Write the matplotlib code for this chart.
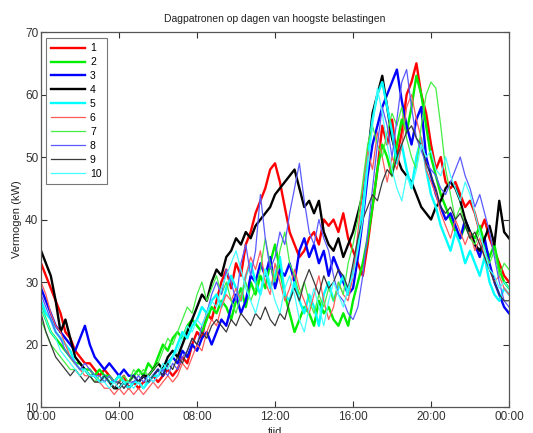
import numpy as np
import matplotlib
matplotlib.use("Agg")
import matplotlib.pyplot as plt

plt.rcParams['font.family'] = ['Liberation Sans', 'DejaVu Sans']

# quarter-hour load profiles (kW) for the ten peak days, 00:00 .. 24:00
day1 = [33, 31, 29, 27, 25, 22, 21, 19, 18, 17, 17, 16, 15, 16, 15, 14,
        14, 15, 13, 14, 13, 14, 14, 15, 14, 15, 16, 15, 16, 18, 17, 20,
        22, 21, 25, 24, 27, 30, 32, 29, 33, 31, 36, 38, 41, 43, 45, 48,
        49, 46, 42, 38, 36, 34, 35, 37, 38, 36, 40, 39, 40, 38, 41, 37,
        35, 33, 31, 36, 42, 48, 55, 52, 56, 50, 54, 60, 62, 65, 60, 57,
        52, 48, 50, 46, 45, 46, 44, 42, 43, 41, 38, 40, 37, 35, 33, 31, 30]
day2 = [26, 24, 22, 21, 20, 19, 18, 17, 17, 16, 16, 15, 16, 15, 15, 14,
        15, 14, 14, 15, 16, 15, 17, 16, 18, 20, 19, 21, 22, 21, 23, 24,
        23, 22, 24, 26, 25, 27, 26, 24, 27, 29, 26, 30, 28, 31, 29, 33,
        36, 32, 28, 25, 22, 24, 26, 25, 23, 27, 25, 26, 24, 23, 25, 23,
        27, 30, 33, 37, 42, 48, 52, 50, 47, 52, 56, 54, 58, 63, 60, 55,
        50, 47, 44, 42, 40, 38, 37, 39, 38, 37, 39, 36, 34, 36, 32, 30, 29]
day3 = [29, 27, 25, 23, 22, 21, 20, 19, 21, 23, 20, 18, 17, 16, 17, 16,
        15, 16, 15, 15, 14, 15, 14, 15, 16, 15, 17, 18, 17, 19, 18, 20,
        19, 21, 22, 20, 22, 24, 23, 26, 28, 25, 27, 31, 30, 33, 31, 34,
        29, 32, 31, 33, 30, 35, 37, 34, 36, 33, 35, 31, 34, 32, 30, 28,
        29, 34, 40, 47, 52, 55, 58, 60, 62, 64, 59, 55, 52, 56, 58, 50,
        47, 44, 42, 40, 41, 39, 37, 40, 38, 36, 34, 37, 33, 30, 28, 26, 25]
day4 = [35, 33, 31, 27, 22, 24, 21, 18, 17, 16, 15, 15, 14, 15, 14, 13,
        13, 14, 13, 14, 14, 15, 15, 16, 17, 16, 18, 19, 18, 20, 22, 24,
        26, 28, 27, 30, 32, 31, 34, 35, 37, 36, 38, 37, 39, 40, 41, 42,
        44, 45, 46, 47, 48, 45, 42, 43, 41, 43, 38, 36, 35, 37, 34, 36,
        38, 41, 44, 50, 57, 60, 63, 58, 53, 50, 48, 47, 46, 44, 42, 41,
        40, 42, 43, 45, 46, 45, 43, 40, 38, 36, 35, 37, 39, 36, 43, 38, 37]
day5 = [27, 25, 24, 22, 21, 20, 19, 17, 16, 16, 15, 15, 14, 15, 14, 14,
        15, 14, 13, 14, 14, 13, 14, 15, 15, 16, 17, 18, 20, 22, 21, 23,
        24, 26, 25, 27, 28, 26, 29, 31, 29, 27, 31, 33, 30, 28, 32, 29,
        31, 34, 28, 27, 30, 27, 25, 28, 26, 23, 28, 30, 27, 29, 31, 28,
        32, 36, 42, 50, 56, 60, 62, 58, 54, 49, 52, 48, 45, 50, 53, 48,
        44, 42, 39, 37, 35, 38, 36, 33, 35, 33, 31, 34, 30, 28, 27, 29, 28]
day6 = [30, 28, 25, 23, 22, 20, 18, 17, 16, 15, 15, 14, 14, 13, 13, 12,
        13, 12, 13, 12, 13, 12, 13, 14, 13, 14, 15, 14, 15, 17, 16, 18,
        20, 19, 22, 24, 23, 26, 28, 27, 29, 27, 31, 34, 32, 35, 30, 28,
        33, 30, 27, 29, 32, 29, 27, 25, 28, 31, 27, 24, 26, 30, 28, 27,
        31, 38, 45, 51, 48, 54, 50, 46, 50, 48, 52, 58, 60, 56, 53, 48,
        46, 44, 41, 39, 37, 40, 38, 36, 38, 35, 37, 34, 32, 30, 31, 29, 28]
day7 = [24, 22, 20, 19, 18, 17, 16, 16, 15, 16, 15, 14, 15, 14, 15, 14,
        14, 15, 14, 16, 15, 16, 15, 16, 17, 19, 21, 20, 22, 24, 26, 25,
        28, 30, 27, 29, 31, 28, 30, 27, 25, 28, 30, 27, 29, 32, 37, 33,
        30, 35, 38, 33, 31, 28, 30, 27, 25, 28, 26, 29, 27, 30, 28, 33,
        36, 40, 46, 52, 55, 52, 50, 54, 57, 55, 58, 53, 50, 48, 55, 60,
        62, 61, 55, 48, 44, 40, 42, 39, 37, 36, 38, 35, 33, 35, 31, 33, 32]
day8 = [28, 26, 24, 22, 21, 19, 18, 17, 16, 17, 16, 15, 15, 14, 15, 14,
        14, 13, 14, 14, 15, 14, 15, 14, 15, 16, 15, 17, 16, 18, 19, 21,
        20, 23, 25, 28, 30, 28, 32, 30, 27, 33, 36, 31, 35, 44, 37, 32,
        34, 38, 36, 41, 45, 49, 43, 38, 36, 40, 37, 35, 31, 28, 27, 25,
        24, 26, 31, 38, 45, 52, 58, 55, 50, 56, 62, 64, 58, 53, 51, 49,
        48, 47, 45, 44, 46, 48, 50, 47, 45, 42, 44, 41, 38, 34, 30, 27, 26]
day9 = [25, 22, 20, 18, 17, 16, 15, 16, 15, 14, 15, 14, 14, 15, 14, 13,
        14, 13, 14, 15, 14, 15, 14, 15, 16, 15, 17, 16, 18, 17, 19, 21,
        20, 22, 21, 23, 24, 23, 22, 24, 23, 25, 24, 23, 25, 24, 26, 24,
        23, 25, 24, 27, 29, 27, 30, 32, 30, 28, 31, 29, 30, 32, 31, 29,
        33, 37, 40, 42, 44, 43, 46, 48, 47, 50, 52, 54, 55, 53, 52, 49,
        47, 45, 42, 41, 42, 40, 41, 39, 37, 38, 36, 34, 32, 30, 28, 27, 27]
day10 = [26, 24, 22, 21, 19, 18, 17, 16, 15, 16, 15, 15, 14, 14, 13, 14,
         13, 14, 14, 13, 14, 13, 15, 14, 15, 17, 16, 18, 19, 21, 23, 22,
         24, 23, 25, 27, 26, 29, 31, 33, 35, 32, 29, 27, 25, 28, 32, 30,
         27, 25, 29, 31, 28, 24, 22, 26, 29, 26, 23, 27, 30, 28, 26, 29,
         31, 35, 40, 48, 55, 61, 57, 52, 48, 45, 43, 47, 45, 48, 52, 50,
         51, 48, 47, 50, 47, 45, 43, 46, 44, 41, 38, 35, 32, 31, 29, 30, 29]

series = [day1, day2, day3, day4, day5, day6, day7, day8, day9, day10]
labels = ['1', '2', '3', '4', '5', '6', '7', '8', '9', '10']
colors = ['#ff0000', '#00ee00', '#0000ff', '#000000', '#00ffff',
          '#ff5a5a', '#44ee44', '#5a5aff', '#3a3a3a', '#44ffff']
widths = [1.7, 1.7, 1.7, 1.7, 1.7, 0.9, 0.9, 0.9, 0.9, 0.9]

tick_hours = [0, 4, 8, 12, 16, 20, 24]
tick_labels = ['00:00', '04:00', '08:00', '12:00', '16:00', '20:00', '00:00']

hours = np.arange(len(day1)) * 0.25

fig = plt.figure(figsize=(5.33, 4.33), dpi=100)
ax = fig.add_axes([0.077, 0.060, 0.878, 0.866])

for vals, lab, col, lw in zip(series, labels, colors, widths):
    ax.plot(hours, vals, color=col, lw=lw, label=lab)

ax.set_xlim(0, 24)
ax.set_ylim(10, 70)
ax.set_xticks(tick_hours)
ax.set_xticklabels(tick_labels)
ax.set_yticks([10, 20, 30, 40, 50, 60, 70])
ax.tick_params(direction='in', top=True, right=True, length=4, width=0.8,
               labelsize=8.5, colors='#333333')
ax.tick_params(axis='x', pad=3)
ax.tick_params(axis='y', pad=2)
for sp in ax.spines.values():
    sp.set_color('#555555')
    sp.set_linewidth(0.9)

ax.set_title('Dagpatronen op dagen van hoogste belastingen', fontsize=7.5,
             color='#222222', pad=7)
ax.set_ylabel('Vermogen (kW)', fontsize=8, color='#222222', labelpad=2)
ax.set_xlabel('tijd', fontsize=8, color='#222222', labelpad=3)

leg = ax.legend(loc='upper left', fontsize=7.5, handlelength=3.2,
                labelspacing=0.38, borderpad=0.5, handletextpad=0.5,
                fancybox=False, framealpha=1, edgecolor='#777777',
                bbox_to_anchor=(0.0, 0.998))
leg.get_frame().set_linewidth(0.8)

fig.savefig('out.png', dpi=100)
